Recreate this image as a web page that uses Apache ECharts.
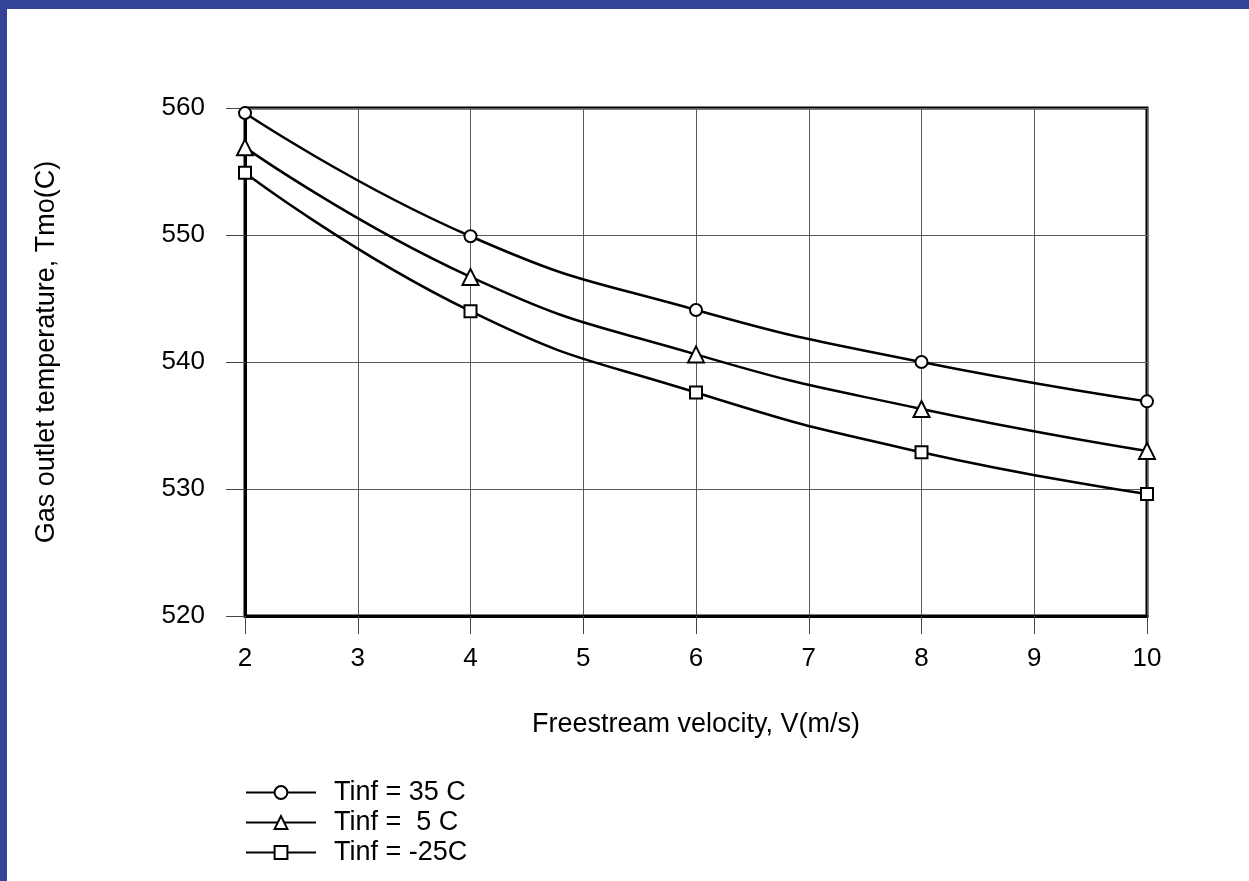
<!DOCTYPE html>
<html style="height: 100%">
<head>
  <meta charset="utf-8">
  <script type="text/javascript" src="https://cdn.jsdelivr.net/npm/echarts@6/dist/echarts.min.js"></script>
</head>
<body style="height: 100%; margin: 0; background: #34449a">
  <div id="container" style="position: absolute; left: 7px; top: 9px; right: 0; bottom: 0; background: #fff"></div>
  <script type="text/javascript">
    // velocity (m/s)
    var velocity = [2, 4, 6, 8, 10];
    // gas outlet temperature for each ambient temperature
    var tmo35 = [559.6, 549.9, 544.1, 540.0, 536.9];
    var tmo5 = [556.9, 546.7, 540.6, 536.3, 533.0];
    var tmoM25 = [554.9, 544.0, 537.6, 532.9, 529.6];
    var seriesNames = ['Tinf = 35 C', 'Tinf =  5 C', 'Tinf = -25C'];
    var symbols = ['emptyCircle', 'emptyTriangle', 'emptyRect'];
    var symbolSizes = [12, 16, 12];
    var values = [tmo35, tmo5, tmoM25];

    var dom = document.getElementById('container');
    var myChart = echarts.init(dom);
    var font = 'Liberation Sans, Arial, sans-serif';

    var series = values.map(function(v, i) {
      return {
        name: seriesNames[i],
        type: 'line',
        data: velocity.map(function(x, j) { return [x, v[j]]; }),
        smooth: 0.5,
        symbol: symbols[i],
        symbolSize: symbolSizes[i],
        showAllSymbol: true,
        clip: false,
        lineStyle: { color: '#000', width: 2.5 },
        itemStyle: { color: '#000', borderWidth: 2 },
        z: 3
      };
    });

    var option = {
      animation: false,
      grid: {
        left: 238, top: 99, right: 102, bottom: 265,
        show: true, borderColor: '#000', borderWidth: 3
      },
      legend: {
        orient: 'vertical',
        left: 238, top: 770,
        padding: 0,
        itemWidth: 70, itemHeight: 16, itemGap: 3,
        data: seriesNames,
        textStyle: { fontFamily: font, fontSize: 27, color: '#000', lineHeight: 27, padding: [0, 0, 0, 13] }
      },
      xAxis: {
        type: 'value', min: 2, max: 10, interval: 1,
        name: 'Freestream velocity, V(m/s)',
        nameLocation: 'middle', nameGap: 95,
        nameTextStyle: { fontFamily: font, fontSize: 27, color: '#000' },
        axisLine: { lineStyle: { color: '#000', width: 3 } },
        axisTick: { show: true, length: 18, lineStyle: { color: '#444', width: 1 } },
        axisLabel: { margin: 30, fontFamily: font, fontSize: 26, color: '#000' },
        splitLine: { show: true, lineStyle: { color: '#5a5a5a', width: 1 } }
      },
      yAxis: {
        type: 'value', min: 520, max: 560, interval: 10,
        name: 'Gas outlet temperature, Tmo(C)',
        nameLocation: 'middle', nameGap: 185, nameRotate: 90,
        nameTextStyle: { fontFamily: font, fontSize: 27, color: '#000', padding: [0, 0, 0, 20] },
        axisLine: { show: true, lineStyle: { color: '#000', width: 3 } },
        axisTick: { show: true, length: 19, lineStyle: { color: '#444', width: 1 } },
        axisLabel: { margin: 40, fontFamily: font, fontSize: 26, color: '#000' },
        splitLine: { show: true, lineStyle: { color: '#5a5a5a', width: 1 } }
      },
      series: series
    };

    myChart.setOption(option);
  </script>
</body>
</html>
